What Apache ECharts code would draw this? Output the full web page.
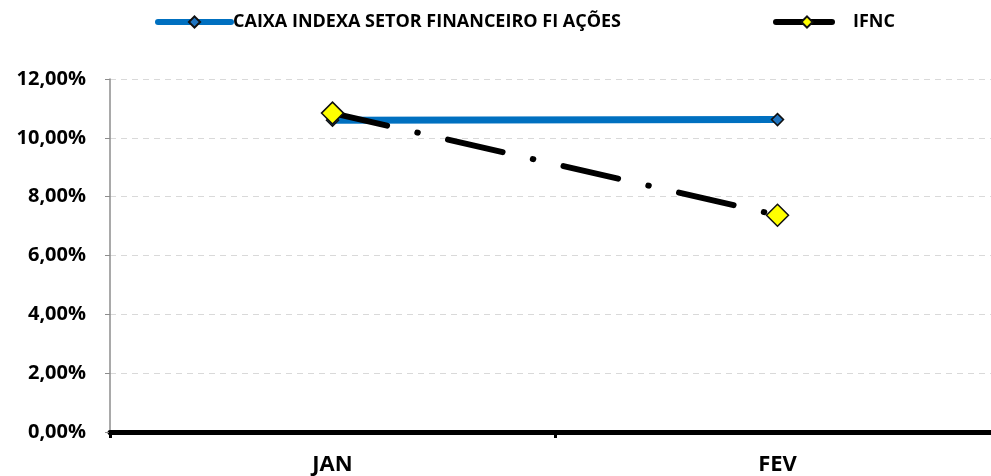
<!DOCTYPE html>
<html>
<head>
<meta charset="utf-8">
<script src="https://cdn.jsdelivr.net/npm/echarts@6/dist/echarts.min.js"></script>
<style>
  html, body { margin: 0; padding: 0; background: #fff; }
  #chart { width: 991px; height: 476px; }
</style>
</head>
<body>
<div id="chart"></div>
<script>
const months = ["JAN", "FEV"];
const caixaValues = [10.6, 10.62];
const ifncValues = [10.84, 7.37];

const chart = echarts.init(document.getElementById("chart"));
const font = "Open Sans";

const legendText = { fontSize: 18, fontWeight: "bold", color: "#000", fontFamily: font };

const option = {
  backgroundColor: "#fff",
  textStyle: { fontFamily: font },
  legend: [
    {
      data: ["CAIXA INDEXA SETOR FINANCEIRO FI AÇÕES"],
      left: 155,
      top: 13,
      padding: 0,
      itemWidth: 73,
      itemHeight: 14,
      lineStyle: { width: 6, cap: "round" },
      textStyle: { ...legendText, padding: [0, 0, 0, -3] },
    },
    {
      data: ["IFNC"],
      left: 773,
      top: 13,
      padding: 0,
      itemWidth: 62,
      itemHeight: 14,
      lineStyle: { width: 6, cap: "round" },
      textStyle: { ...legendText, padding: [0, 0, 0, 10] },
    },
  ],
  grid: { left: 110, right: -9, top: 79, bottom: 44, outerBoundsMode: "none", containLabel: false },
  xAxis: {
    type: "category",
    data: months,
    boundaryGap: true,
    axisLine: { lineStyle: { color: "#000", width: 5 } },
    axisTick: { show: true, length: 6, lineStyle: { color: "#000", width: 3 } },
    axisLabel: { fontSize: 22, fontWeight: "bold", color: "#000", margin: 22, fontFamily: font },
  },
  yAxis: {
    type: "value",
    min: 0,
    max: 12,
    interval: 2,
    axisLine: { show: true, lineStyle: { color: "#8c8c8c", width: 1.5 } },
    axisTick: { show: true, length: 5, lineStyle: { color: "#8c8c8c" } },
    splitLine: { lineStyle: { color: "#d9d9d9", type: [6, 5], width: 1 } },
    axisLabel: {
      fontSize: 20,
      fontWeight: "bold",
      color: "#000",
      margin: 24,
      fontFamily: font,
      formatter: (v) => v.toFixed(2).replace(".", ",") + "%",
    },
  },
  series: [
    {
      name: "CAIXA INDEXA SETOR FINANCEIRO FI AÇÕES",
      type: "line",
      data: caixaValues,
      symbol: "diamond",
      symbolSize: 12,
      itemStyle: { color: "#1f74c0", borderColor: "#111", borderWidth: 1.5 },
      lineStyle: { color: "#0070c0", width: 7 },
      z: 2,
    },
    {
      name: "IFNC",
      type: "line",
      data: ifncValues,
      symbol: "diamond",
      symbolSize: 22,
      itemStyle: { color: "#ffff00", borderColor: "#111", borderWidth: 1.5 },
      lineStyle: { color: "#000", width: 6, type: [56, 31, 0.5, 31], cap: "round" },
      z: 3,
    },
  ],
};

chart.setOption(option);
</script>
</body>
</html>
